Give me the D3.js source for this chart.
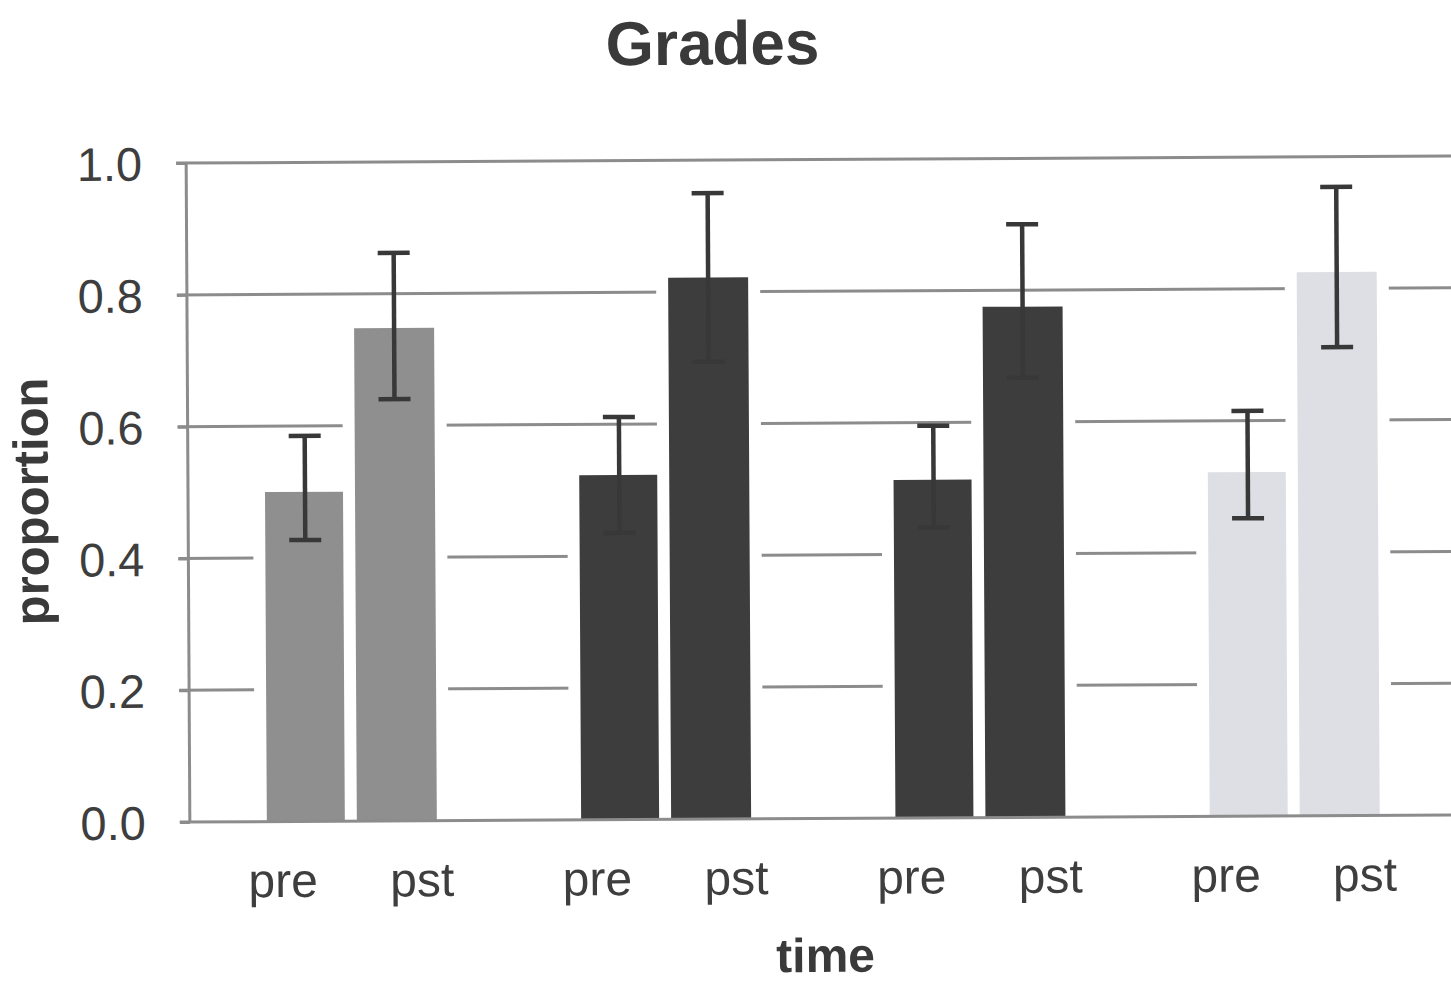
<!DOCTYPE html>
<html>
<head>
<meta charset="utf-8">
<script src="https://cdn.jsdelivr.net/npm/d3@7"></script>
<style>
  html, body { margin: 0; padding: 0; background: #fff; }
  svg { display: block; }
  text { font-family: "Liberation Sans", Arial, Helvetica, sans-serif; }
</style>
</head>
<body>
<svg id="chart" width="1451" height="986"></svg>
<script>
// ---- data ----
const groups = ["g1", "g2", "g3", "g4"];
const times = ["pre", "pst"];
const preValues = [0.50, 0.523, 0.513, 0.522];
const pstValues = [0.748, 0.822, 0.775, 0.825];
const preLow  = [0.427, 0.435, 0.441, 0.452];
const preHigh = [0.585, 0.611, 0.595, 0.615];
const pstLow  = [0.640, 0.694, 0.667, 0.711];
const pstHigh = [0.862, 0.950, 0.900, 0.954];
const groupColors = ["#8f8f8f", "#3d3d3d", "#3d3d3d", "#dedfe4"];
const yTicks = [0, 0.2, 0.4, 0.6, 0.8, 1.0];

const rows = [];
groups.forEach((g, i) => {
  rows.push({ group: g, time: "pre", value: preValues[i], lo: preLow[i], hi: preHigh[i], color: groupColors[i] });
  rows.push({ group: g, time: "pst", value: pstValues[i], lo: pstLow[i], hi: pstHigh[i], color: groupColors[i] });
});

// ---- layout ----
const svg = d3.select("#chart");
const root = svg.append("g").attr("transform", "rotate(-0.32, 820, 490)");

const x0 = d3.scaleBand().domain(groups).range([188, 188 + 4 * 314.3]).paddingInner(0).paddingOuter(0);
const xIn = d3.scalePoint().domain(times).range([117, 207]);
const y = d3.scaleLinear().domain([0, 1]).range([818.5, 159.5]);
const barW = 80, knock = 6;
const labelShift = { pre: -24, pst: 25 };

// gridlines
root.append("g").selectAll("line").data(yTicks.filter(t => t > 0)).join("line")
  .attr("x1", 178).attr("x2", 1460)
  .attr("y1", d => y(d)).attr("y2", d => y(d))
  .attr("stroke", "#8c8c8c").attr("stroke-width", 3);

// bars (white knockout stroke)
root.append("g").selectAll("rect").data(rows).join("rect")
  .attr("x", d => x0(d.group) + xIn(d.time) - barW / 2 - knock)
  .attr("y", d => y(d.value) - knock)
  .attr("width", barW + 2 * knock)
  .attr("height", d => y(0) - y(d.value) + 2 * knock)
  .attr("fill", d => d.color)
  .attr("stroke", "#fff").attr("stroke-width", 2 * knock);

// error bars
const eb = root.append("g").attr("stroke", "#383838").attr("stroke-width", 4.5);
eb.selectAll("line.v").data(rows).join("line").attr("class", "v")
  .attr("x1", d => x0(d.group) + xIn(d.time)).attr("x2", d => x0(d.group) + xIn(d.time))
  .attr("y1", d => y(d.hi)).attr("y2", d => y(d.lo));
eb.selectAll("line.t").data(rows).join("line").attr("class", "t")
  .attr("x1", d => x0(d.group) + xIn(d.time) - 16).attr("x2", d => x0(d.group) + xIn(d.time) + 16)
  .attr("y1", d => y(d.hi)).attr("y2", d => y(d.hi));
eb.selectAll("line.b").data(rows).join("line").attr("class", "b")
  .attr("x1", d => x0(d.group) + xIn(d.time) - 16).attr("x2", d => x0(d.group) + xIn(d.time) + 16)
  .attr("y1", d => y(d.lo)).attr("y2", d => y(d.lo));

// y axis
const yAxis = d3.axisLeft(y).tickValues(yTicks).tickFormat(d3.format(".1f")).tickSize(10).tickPadding(34);
const ya = root.append("g").attr("transform", "translate(188,0)").call(yAxis);
ya.select(".domain").attr("stroke", "#8c8c8c").attr("stroke-width", 3).attr("d", `M0,${y(1)}V${y(0)}`);
ya.selectAll(".tick line").attr("stroke", "#8c8c8c").attr("stroke-width", 3);
ya.selectAll(".tick text").attr("font-size", 47).attr("fill", "#3e3e3e")
  .attr("font-family", "'Liberation Sans', Arial, sans-serif").attr("dy", "0.36em");

// baseline
root.append("line").attr("x1", 178).attr("x2", 1460).attr("y1", y(0)).attr("y2", y(0))
  .attr("stroke", "#8c8c8c").attr("stroke-width", 3);

// x tick labels
root.append("g").selectAll("text").data(rows).join("text")
  .attr("x", d => x0(d.group) + xIn(d.time) + labelShift[d.time])
  .attr("y", 894)
  .attr("text-anchor", "middle")
  .attr("font-size", 48).attr("fill", "#3e3e3e")
  .text(d => d.time);

// titles
root.append("text").attr("x", 715).attr("y", 64).attr("text-anchor", "middle")
  .attr("font-size", 62).attr("font-weight", "bold").attr("fill", "#3a3a3a").text("Grades");
root.append("text").attr("x", 823).attr("y", 972).attr("text-anchor", "middle")
  .attr("font-size", 48).attr("font-weight", "bold").attr("fill", "#3a3a3a").text("time");
root.append("text").attr("transform", "translate(48,497) rotate(-90)").attr("text-anchor", "middle")
  .attr("font-size", 49).attr("font-weight", "bold").attr("fill", "#3a3a3a").text("proportion");
</script>
</body>
</html>
